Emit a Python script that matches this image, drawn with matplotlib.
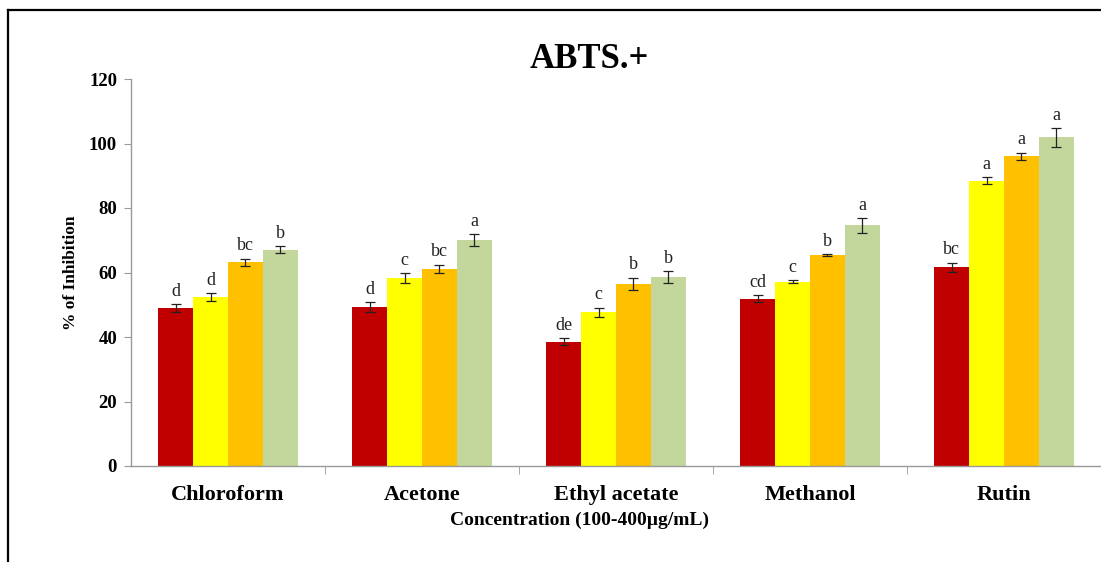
import numpy as np
import matplotlib.pyplot as plt
from matplotlib.lines import Line2D

plt.rcParams['font.family'] = ['Liberation Serif', 'DejaVu Serif']

solvents = ['Chloroform', 'Acetone', 'Ethyl acetate', 'Methanol', 'Rutin']

# % inhibition at 100, 200, 300 and 400 ug/mL
conc_100 = [48.9, 49.3, 38.5, 51.9, 61.7]
conc_200 = [52.3, 58.2, 47.6, 57.1, 88.5]
conc_300 = [63.2, 61.2, 56.5, 65.4, 96.0]
conc_400 = [67.1, 70.0, 58.6, 74.6, 101.9]

err_100 = [1.2, 1.4, 1.1, 1.1, 1.4]
err_200 = [1.2, 1.6, 1.5, 0.5, 1.0]
err_300 = [1.1, 1.2, 1.9, 0.2, 1.2]
err_400 = [1.1, 1.9, 1.9, 2.2, 2.9]

# significance letters
let_100 = ['d', 'd', 'de', 'cd', 'bc']
let_200 = ['d', 'c', 'c', 'c', 'a']
let_300 = ['bc', 'bc', 'b', 'b', 'a']
let_400 = ['b', 'a', 'b', 'a', 'a']

colors = ['#C00000', '#FFFF00', '#FFC000', '#C3D69B']

fig = plt.figure(figsize=(11.01, 5.62), dpi=100)
ax = fig.add_axes([131 / 1101, 1 - 466 / 562, 1 - 131 / 1101, (466 - 79) / 562])

x = np.arange(len(solvents))
w = 0.18
series = [(conc_100, err_100, let_100), (conc_200, err_200, let_200),
          (conc_300, err_300, let_300), (conc_400, err_400, let_400)]
for i, (vals, errs, lets) in enumerate(series):
    pos = x + (i - 1.5) * w
    ax.bar(pos, vals, w, color=colors[i], edgecolor='none', zorder=2)
    ax.errorbar(pos, vals, yerr=errs, fmt='none', ecolor='#222222',
                elinewidth=0.9, capsize=3.4, capthick=0.9, zorder=3)
    for px, v, e, t in zip(pos, vals, errs, lets):
        ax.annotate(t, (px, v + e), xytext=(0, 6), textcoords='offset points',
                    ha='center', va='baseline', fontsize=13, color='#222222')

ax.set_xlim(-0.5, len(solvents) - 0.5)
ax.set_ylim(0, 120)
ax.set_yticks(np.arange(0, 121, 20))

ax.set_xticks(x)
ax.set_xticklabels(solvents, fontsize=16, fontweight='bold')
ax.set_xticks(np.arange(0.5, len(solvents) - 0.5, 1), minor=True)
ax.tick_params(axis='x', which='major', length=0, pad=14)
ax.tick_params(axis='x', which='minor', length=6, color='#999999', direction='out')
ax.tick_params(axis='y', length=5, color='#999999', pad=5, labelsize=13.5)
for lab in ax.get_yticklabels():
    lab.set_fontweight('bold')

for side in ['top', 'right']:
    ax.spines[side].set_visible(False)
for side in ['left', 'bottom']:
    ax.spines[side].set_color('#999999')
    ax.spines[side].set_linewidth(1)

ax.set_ylabel('% of Inhibition', fontsize=12.5, fontweight='bold')
ax.yaxis.set_label_coords(-52 / 970, 0.5)
ax.set_xlabel('Concentration (100-400\u00b5g/mL)', fontsize=14, fontweight='bold')
ax.xaxis.set_label_coords((579 - 131) / 970, -46 / 387)

fig.text(589 / 1101, 1 - 60 / 562, 'ABTS.+', fontsize=25, fontweight='bold',
         ha='center', va='center')

# frame around the figure
fig.add_artist(Line2D([8 / 1101, 8 / 1101], [0, 1 - 10 / 562], transform=fig.transFigure,
                      color='black', lw=1.6))
fig.add_artist(Line2D([8 / 1101, 1], [1 - 10 / 562, 1 - 10 / 562], transform=fig.transFigure,
                      color='black', lw=1.6))

fig.savefig('out.png', dpi=100)
